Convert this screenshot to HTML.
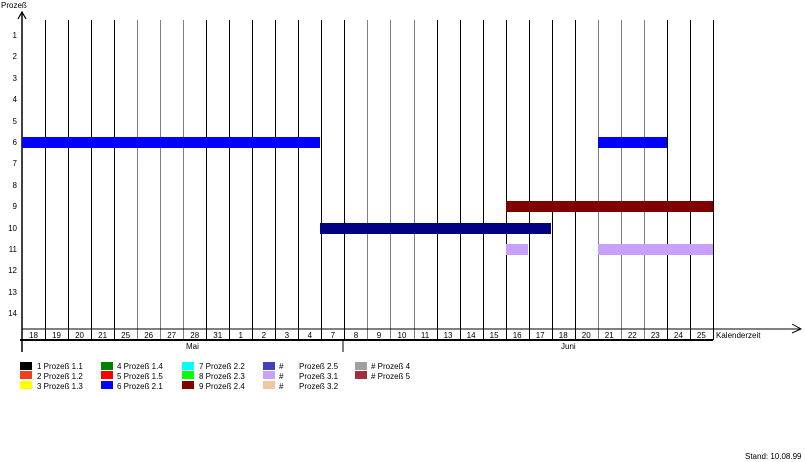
<!DOCTYPE html><html><head><style>body{margin:0;background:#fff}svg{display:block}text{font-family:"Liberation Sans",sans-serif;font-size:8px;fill:#000}</style></head><body>
<svg width="805" height="462" xmlns="http://www.w3.org/2000/svg">
<text x="1" y="8">Prozeß</text>
<line x1="22" y1="12" x2="22" y2="352" stroke="#000" stroke-width="1.5"/>
<path d="M18 19 L22 12 L26 19" fill="none" stroke="#000" stroke-width="1.2"/>
<g id="grid"></g>
<rect x="22" y="137" width="298" height="11" fill="#0000ff"/>
<rect x="598" y="137" width="69" height="11" fill="#0000ff"/>
<rect x="506" y="201" width="207" height="11" fill="#800000"/>
<rect x="320" y="223" width="231" height="11" fill="#000080"/>
<rect x="506" y="244" width="22" height="11" fill="#c8a0ff"/>
<rect x="598" y="244" width="115" height="11" fill="#c8a0ff"/>
<line x1="22" y1="329" x2="800" y2="329" stroke="#000"/>
<path d="M792 324 L801 329 L792 333" fill="none" stroke="#000"/>
<line x1="20" y1="340" x2="713" y2="340" stroke="#000" stroke-width="2"/>
<line x1="343" y1="340" x2="343" y2="352" stroke="#000"/>
<text x="186" y="349">Mai</text><text x="561" y="349">Juni</text>
<text x="716" y="338">Kalenderzeit</text>
<text x="745" y="459">Stand: 10.08.99</text>
<g text-anchor="end">
<text x="17" y="38">1</text><text x="17" y="59">2</text><text x="17" y="81">3</text><text x="17" y="102">4</text><text x="17" y="124">5</text><text x="17" y="145">6</text><text x="17" y="166">7</text><text x="17" y="188">8</text><text x="17" y="209">9</text><text x="17" y="231">10</text><text x="17" y="252">11</text><text x="17" y="273">12</text><text x="17" y="295">13</text><text x="17" y="316">14</text>
</g>
<g id="dates" text-anchor="middle"></g>
<g>
<rect x="20" y="362" width="12" height="8" fill="#000"/><rect x="20" y="371" width="12" height="8" fill="#f04020"/><rect x="20" y="381" width="12" height="8" fill="#ffff00"/>
<text x="37" y="369">1 Prozeß 1.1</text><text x="37" y="379">2 Prozeß 1.2</text><text x="37" y="389">3 Prozeß 1.3</text>
<rect x="101" y="362" width="12" height="8" fill="#008000"/><rect x="101" y="371" width="12" height="8" fill="#ff0000"/><rect x="101" y="381" width="12" height="8" fill="#0000ff"/>
<text x="117" y="369">4 Prozeß 1.4</text><text x="117" y="379">5 Prozeß 1.5</text><text x="117" y="389">6 Prozeß 2.1</text>
<rect x="182" y="362" width="12" height="8" fill="#00ffff"/><rect x="182" y="371" width="12" height="8" fill="#00ff00"/><rect x="182" y="381" width="12" height="8" fill="#800000"/>
<text x="199" y="369">7 Prozeß 2.2</text><text x="199" y="379">8 Prozeß 2.3</text><text x="199" y="389">9 Prozeß 2.4</text>
<rect x="263" y="362" width="12" height="8" fill="#4040c0"/><rect x="263" y="371" width="12" height="8" fill="#c8a0ff"/><rect x="263" y="381" width="12" height="8" fill="#f0c8a0"/>
<text x="279" y="369">#</text><text x="279" y="379">#</text><text x="279" y="389">#</text>
<text x="299" y="369">Prozeß 2.5</text><text x="299" y="379">Prozeß 3.1</text><text x="299" y="389">Prozeß 3.2</text>
<rect x="355" y="362" width="12" height="8" fill="#a0a0a0"/><rect x="355" y="371" width="12" height="8" fill="#a03040"/>
<text x="371" y="369"># Prozeß 4</text><text x="371" y="379"># Prozeß 5</text>
</g>
</svg>
<script>
var g=document.getElementById('grid'),d=document.getElementById('dates'),ns='http://www.w3.org/2000/svg';
var w=23.03,L=['18','19','20','21','25','26','27','28','31','1','2','3','4','7','8','9','10','11','13','14','15','16','17','18','20','21','22','23','24','25'];
for(var i=1;i<=30;i++){var x=Math.round(22+w*i)+0.5;var l=document.createElementNS(ns,'line');var gr=(i%10>=5&&i%10<=7);
l.setAttribute('x1',x);l.setAttribute('x2',x);l.setAttribute('y1',20);l.setAttribute('y2',340);l.setAttribute('stroke',gr?'#808080':'#000');g.appendChild(l);}
for(var i=0;i<30;i++){var t=document.createElementNS(ns,'text');t.setAttribute('x',22+w*(i+0.5));t.setAttribute('y',338);t.textContent=L[i];d.appendChild(t);}
</script>
</body></html>
